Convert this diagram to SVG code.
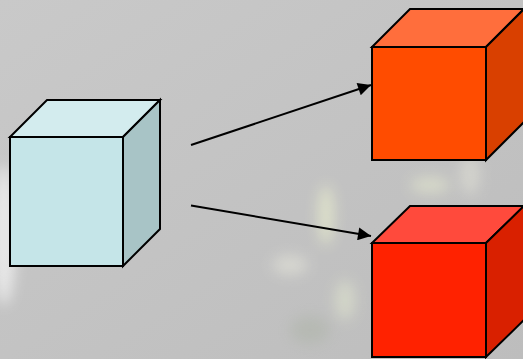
<svg xmlns="http://www.w3.org/2000/svg" width="523" height="359" viewBox="0 0 523 359">
  <style>
    .edge { stroke: #000; stroke-width: 2; stroke-linejoin: miter; }
    .conn { stroke: #000; stroke-width: 2; fill: none; }
  </style>
  <defs>
    <marker id="head" viewBox="0 0 10 10" refX="10" refY="5" markerWidth="8" markerHeight="6.5" markerUnits="strokeWidth" orient="auto">
      <path d="M0,0 L10,5 L0,10 Z" fill="#000"/>
    </marker>
    <filter id="soft" x="-50%" y="-50%" width="200%" height="200%">
      <feGaussianBlur stdDeviation="7"/>
    </filter>
    <linearGradient id="bg" x1="0" y1="0" x2="1" y2="1">
      <stop offset="0" stop-color="#c9c9c9"/>
      <stop offset="1" stop-color="#bdbdbd"/>
    </linearGradient>
  </defs>

  <!-- backdrop -->
  <rect width="523" height="359" fill="url(#bg)"/>
  <g filter="url(#soft)" opacity="0.8">
    <ellipse cx="4" cy="235" rx="12" ry="70" fill="#f2f2f2"/>
    <ellipse cx="326" cy="215" rx="8" ry="30" fill="#e4e8cc"/>
    <ellipse cx="290" cy="265" rx="18" ry="10" fill="#dcdcd4"/>
    <ellipse cx="345" cy="300" rx="10" ry="20" fill="#d8dccb"/>
    <ellipse cx="430" cy="185" rx="20" ry="8" fill="#dde0cc"/>
    <ellipse cx="470" cy="175" rx="10" ry="20" fill="#d8d8d0"/>
    <ellipse cx="310" cy="330" rx="20" ry="14" fill="#b4b8b0"/>
  </g>

  <!-- connectors -->
  <g id="connectors">
    <line class="conn" x1="191" y1="145" x2="371" y2="85" marker-end="url(#head)"/>
    <line class="conn" x1="191" y1="205.5" x2="371" y2="236" marker-end="url(#head)"/>
  </g>

  <!-- source cube -->
  <g id="cube-source">
    <polygon class="edge" points="10,137 47,100 160,100 123,137" fill="#d3ecee"/>
    <polygon class="edge" points="123,137 160,100 160,229 123,266" fill="#a8c4c6"/>
    <rect class="edge" x="10" y="137" width="113" height="129" fill="#c5e5e8"/>
  </g>

  <!-- orange target cube -->
  <g id="cube-orange">
    <polygon class="edge" points="372,47 410,9 524,9 486,47" fill="#ff6e3c"/>
    <polygon class="edge" points="486,47 524,9 524,122 486,160" fill="#d94000"/>
    <rect class="edge" x="372" y="47" width="114" height="113" fill="#ff4c00"/>
  </g>

  <!-- red target cube -->
  <g id="cube-red">
    <polygon class="edge" points="372,243 410,206 524,206 486,243" fill="#ff4a3c"/>
    <polygon class="edge" points="486,243 524,206 524,320 486,357" fill="#d92000"/>
    <rect class="edge" x="372" y="243" width="114" height="114" fill="#ff2200"/>
  </g>
</svg>
